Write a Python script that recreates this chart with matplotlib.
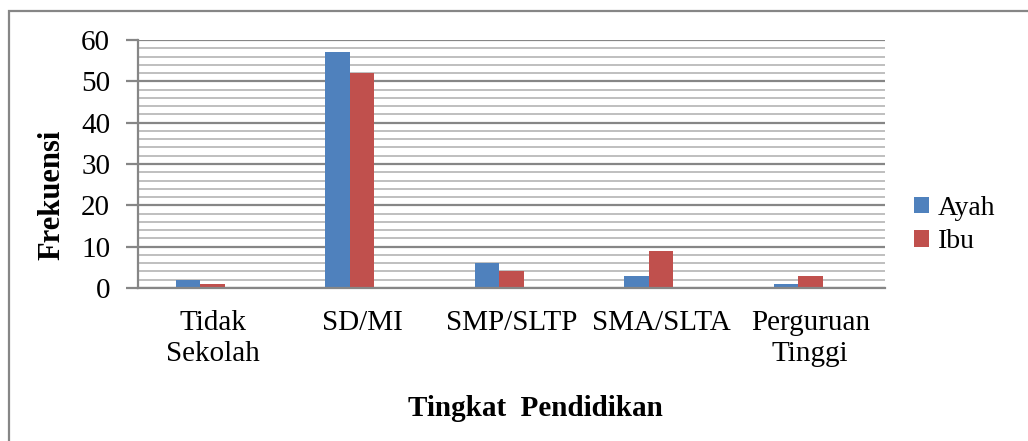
import matplotlib
matplotlib.use("Agg")
import matplotlib.pyplot as plt
from matplotlib.patches import Rectangle
import numpy as np

categories = ["Tidak\nSekolah", "SD/MI", "SMP/SLTP", "SMA/SLTA", "Perguruan\nTinggi"]
ayah = [2, 57, 6, 3, 1]
ibu = [1, 52, 4, 9, 3]
series_names = ["Ayah", "Ibu"]
yticks = [0, 10, 20, 30, 40, 50, 60]

plt.rcParams['font.family'] = ['Liberation Serif', 'DejaVu Serif']

W, H = 1028, 441
fig = plt.figure(figsize=(W / 100, H / 100), dpi=100)

def fx(px):
    return px / W

def fy(py):
    return 1 - py / H

ax = fig.add_axes([fx(138), fy(288), fx(885) - fx(138), fy(40) - fy(288)])

x = np.arange(len(categories))
w = 0.164
b1 = ax.bar(x - w, ayah, width=w, color="#4F81BD", label=series_names[0], zorder=3)
b2 = ax.bar(x, ibu, width=w, color="#C0504D", label=series_names[1], zorder=3)

ax.set_xlim(-0.5, len(categories) - 0.5)
ax.set_ylim(0, 60)
ax.set_yticks(yticks)
ax.set_yticks(np.arange(0, 61, 2), minor=True)
ax.set_yticklabels([str(v) for v in yticks], fontsize=21)
ax.set_xticks(x)
ax.set_xticklabels(categories, fontsize=21, linespacing=1.25)

ax.grid(axis='y', which='major', color='#868686', linewidth=1.6, zorder=0)
ax.grid(axis='y', which='minor', color='#BFBFBF', linewidth=1.4, zorder=0)
ax.tick_params(axis='y', which='major', length=9, width=1.6, color='#868686', pad=11)
ax.tick_params(axis='y', which='minor', length=0)
ax.tick_params(axis='x', length=0, pad=16)

for s in ['top', 'right']:
    ax.spines[s].set_visible(False)
for s in ['left', 'bottom']:
    ax.spines[s].set_color('#868686')
    ax.spines[s].set_linewidth(1.6)
    ax.spines[s].set_zorder(4)

fig.text(fx(52), fy(195), "Frekuensi", rotation=90, fontsize=22, fontweight='bold',
         ha='center', va='center')
fig.text(fx(535), fy(408), "Tingkat  Pendidikan", fontsize=21, fontweight='bold',
         ha='center', va='center')

leg = ax.legend(handles=[b1, b2], loc='center left', bbox_to_anchor=(fx(914), fy(225)),
                bbox_transform=fig.transFigure, frameon=False, fontsize=20,
                handlelength=0.55, handleheight=0.55, handletextpad=0.3,
                labelspacing=0.3, borderaxespad=0, borderpad=0)

fig.patches.append(Rectangle((fx(9), fy(H + 20)), 1.2, fy(11) - fy(H + 20),
                             transform=fig.transFigure, fill=False,
                             edgecolor='#868686', linewidth=1.6))

fig.savefig("out.png", dpi=100)
